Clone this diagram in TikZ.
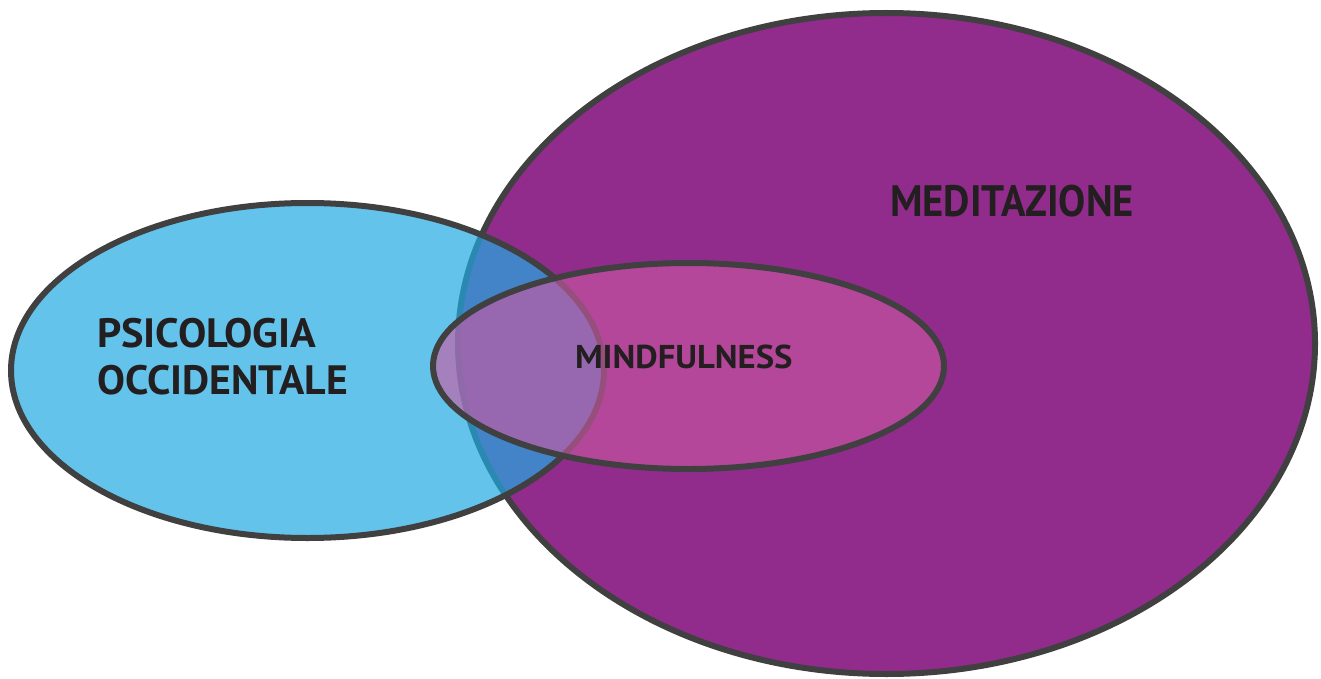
\documentclass[tikz,border=0pt]{standalone}
\usepackage{fontspec}
\usepackage{graphicx}
\setmainfont{PT Sans}
\usetikzlibrary{shapes.geometric}
\definecolor{medpurple}{RGB}{146,44,140}
\definecolor{psyblue}{RGB}{34,169,225}
\definecolor{mindpink}{RGB}{204,89,163}
\definecolor{outline}{RGB}{64,64,64}
\definecolor{txt}{RGB}{35,31,32}
\tikzset{
  setellipse/.style={ellipse, inner sep=0pt, outer sep=0pt, draw=outline, line width=6pt},
  lbl/.style={inner sep=0pt, outer sep=0pt, text=txt, font=\bfseries\fontsize{41}{48}\selectfont, anchor=base west}
}
\begin{document}
\begin{tikzpicture}[x=1pt,y=-1pt]
\useasboundingbox (0,0) rectangle (1321,679);
\node[setellipse, fill=medpurple, minimum width=857pt, minimum height=661pt] (med) at (886.5,343.5) {};
\node[setellipse, fill=psyblue, fill opacity=0.7, minimum width=593pt, minimum height=335pt] (psy) at (307.5,370.5) {};
\node[setellipse, fill=mindpink, fill opacity=0.62, minimum width=511pt, minimum height=206pt] (mind) at (688.5,366) {};
\node[lbl] (psytxt1) at (97,347) {\scalebox{1.035}[1]{PSICOLOGIA}};
\node[lbl] (psytxt2) at (97,394) {\scalebox{1.02}[1]{OCCIDENTALE}};
\node[lbl, font=\bfseries\fontsize{33}{40}\selectfont] (mindtxt) at (575,368) {\scalebox{1.05}[1]{MINDFULNESS}};
\node[lbl, font=\bfseries\fontsize{44}{50}\selectfont] (medtxt) at (890,216) {\scalebox{0.924}[1]{MEDITAZIONE}};
\end{tikzpicture}
\end{document}
